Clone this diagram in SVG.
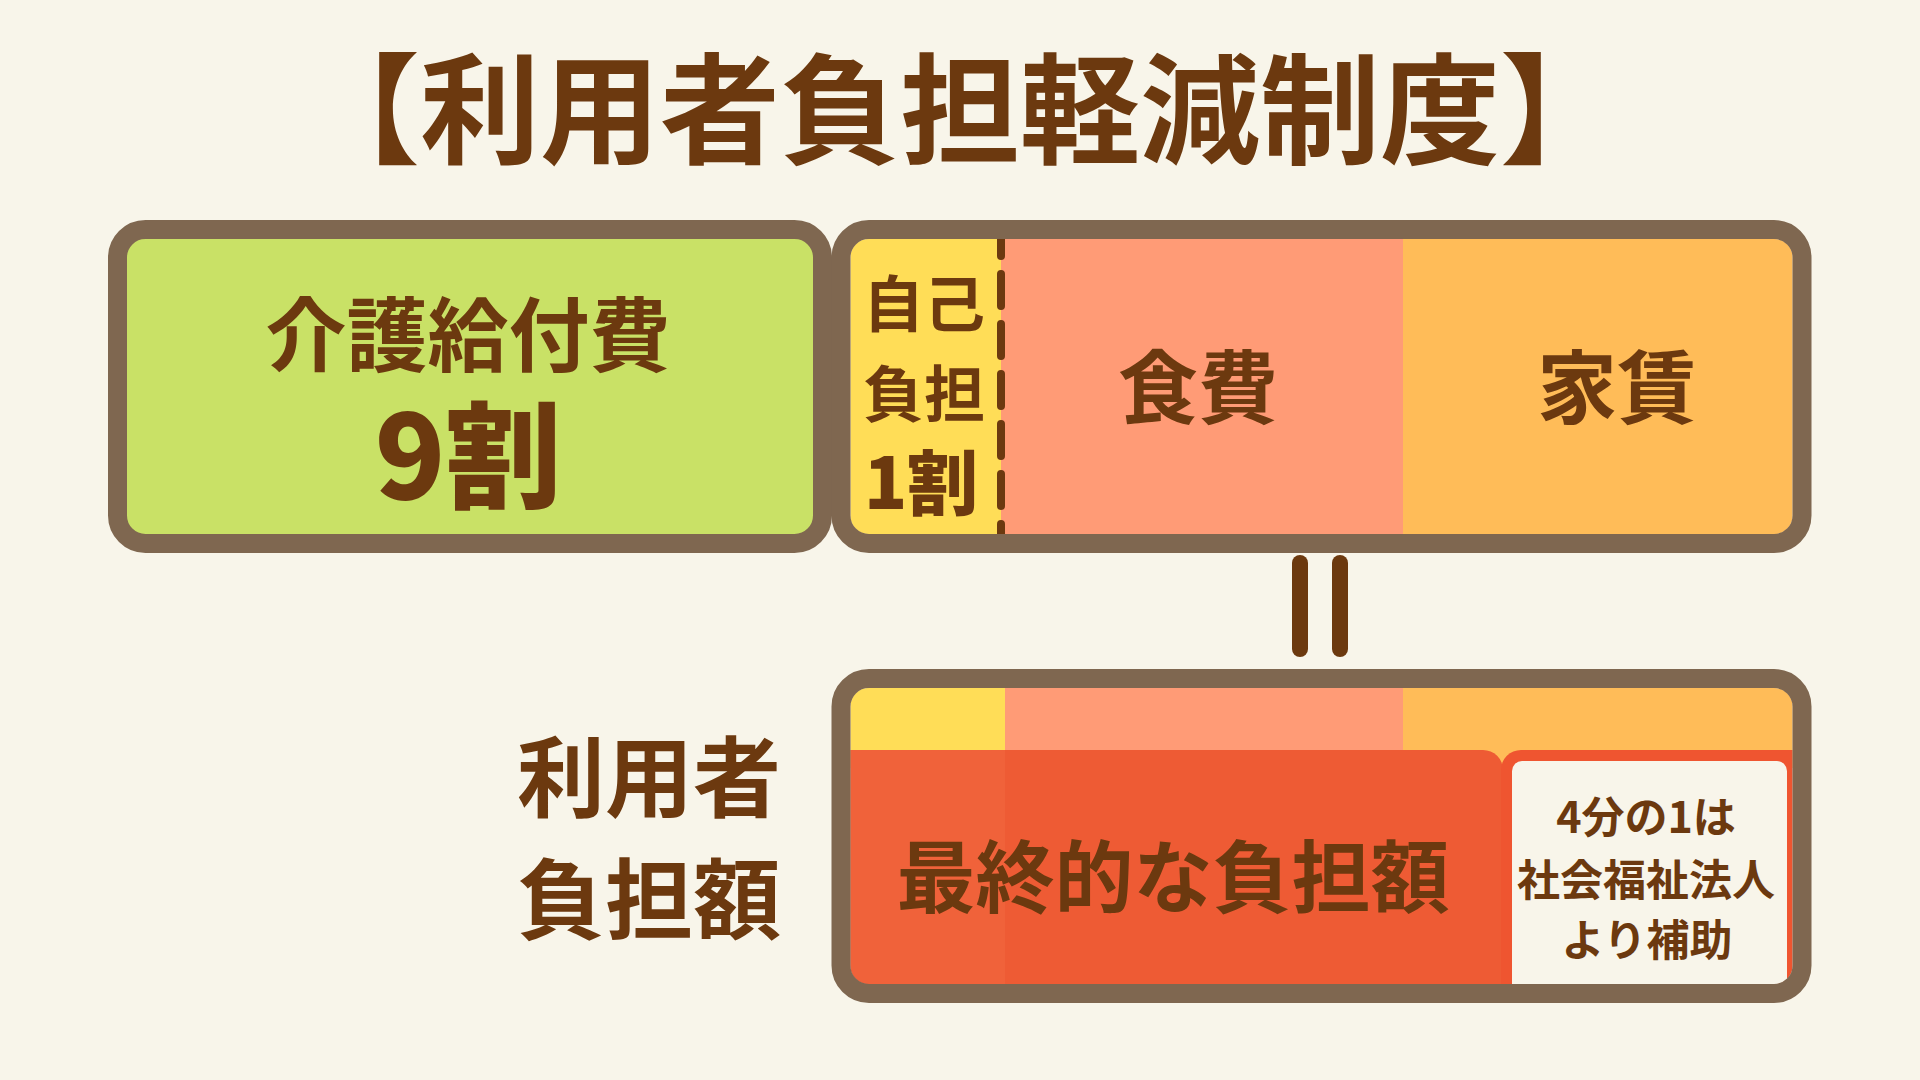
<svg xmlns="http://www.w3.org/2000/svg" width="1920" height="1080" viewBox="0 0 1920 1080">
  <defs>
    <style>
      .t { font-family: 'Noto Sans CJK JP', 'Noto Sans CJK SC', sans-serif; font-weight: 700; fill: #6C390F; text-anchor: middle; }
      .heavy { font-weight: 900; }
      .frame { fill: none; stroke: #7F6750; stroke-width: 19; }
      .bar { stroke: #6C390F; stroke-width: 16; stroke-linecap: round; fill: none; }
    </style>
    <clipPath id="clipTop">
      <rect x="850.5" y="239" width="942" height="295" rx="18"/>
    </clipPath>
    <clipPath id="clipBottom">
      <rect x="850.5" y="688" width="942" height="296" rx="18"/>
    </clipPath>
  </defs>

  <rect x="0" y="0" width="1920" height="1080" fill="#F8F5EA"/>

  <g id="title">
    <text class="t" x="960" y="155" font-size="120">【利用者負担軽減制度】</text>
  </g>

  <g id="node-kaigo">
    <rect x="117.5" y="229.5" width="705" height="314" rx="28" fill="#C9E166"/>
    <rect class="frame" x="117.5" y="229.5" width="705" height="314" rx="28"/>
    <text class="t" x="468" y="365" font-size="81">介護給付費</text>
    <text class="t heavy" x="468" y="499" font-size="116">9割</text>
  </g>

  <g id="node-costs">
    <g clip-path="url(#clipTop)">
      <rect x="850" y="239" width="151" height="296" fill="#FFDD57"/>
      <rect x="1001" y="239" width="402" height="296" fill="#FF9B76"/>
      <rect x="1403" y="239" width="391" height="296" fill="#FFBC58"/>
    </g>
    <line x1="1001" y1="224" x2="1001" y2="534" stroke="#6C390F" stroke-width="8" stroke-linecap="round" stroke-dasharray="32 18"/>
    <rect class="frame" x="841" y="229.5" width="961" height="314" rx="28"/>
    <g id="node-self">
      <text class="t" x="924" y="327" font-size="61">自己</text>
      <text class="t" x="924" y="417" font-size="61">負担</text>
      <text class="t heavy" x="921" y="509" font-size="71">1割</text>
    </g>
    <g id="node-food">
      <text class="t" x="1198" y="417" font-size="80">食費</text>
    </g>
    <g id="node-rent">
      <text class="t" x="1617" y="417" font-size="80">家賃</text>
    </g>
  </g>

  <g id="connectors">
    <line class="bar" x1="1300" y1="563" x2="1300" y2="649"/>
    <line class="bar" x1="1340" y1="563" x2="1340" y2="649"/>
  </g>

  <g id="label-user">
    <text class="t" x="649" y="810" font-size="88">利用者</text>
    <text class="t" x="649" y="932" font-size="88">負担額</text>
  </g>

  <g id="node-final">
    <g clip-path="url(#clipBottom)">
      <rect x="850" y="688" width="155" height="80" fill="#FFDD57"/>
      <rect x="1005" y="688" width="398" height="80" fill="#FF9B76"/>
      <rect x="1403" y="688" width="391" height="80" fill="#FFBC58"/>
      <path d="M850 750 H1483 A20 20 0 0 1 1503 770 V990 H850 Z" fill="#EE5B34"/>
      <rect x="850" y="750" width="155" height="240" fill="#F0623A"/>
      <path d="M1521 750 H1800 V990 H1501 V770 A20 20 0 0 1 1521 750 Z" fill="#EF5530"/>
      <rect x="1512" y="761" width="275" height="240" rx="10" fill="#F8F5EA"/>
    </g>
    <rect class="frame" x="841" y="678.5" width="961" height="315" rx="28"/>
    <text class="t" x="1173" y="907" font-size="79">最終的な負担額</text>
  </g>

  <g id="node-subsidy">
    <text class="t" x="1646" y="833" font-size="43">4分の1は</text>
    <text class="t" x="1646" y="896" font-size="43">社会福祉法人</text>
    <text class="t" x="1647" y="956" font-size="43">より補助</text>
  </g>
</svg>
